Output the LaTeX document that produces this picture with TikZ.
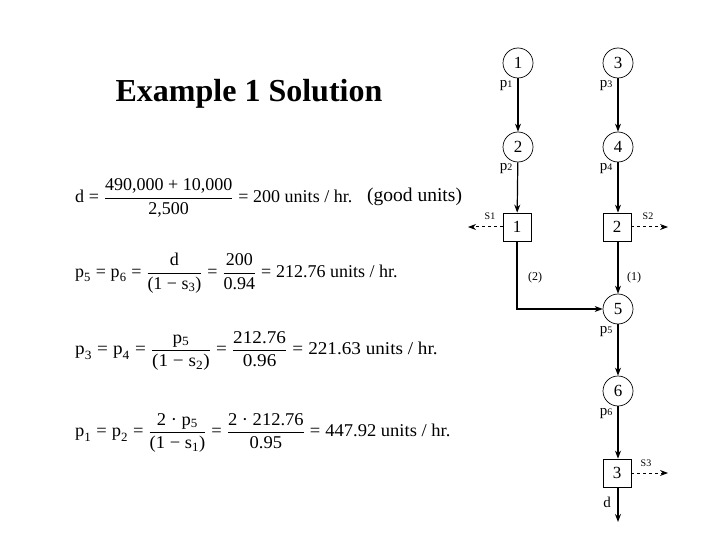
\documentclass[tikz,border=0pt]{standalone}
\usepackage{amsmath}
\usepackage{graphicx}
\usepackage{fontspec}
\setmainfont{Liberation Serif}
\usetikzlibrary{arrows.meta}
\newcommand{\tr}[1]{\textrm{#1}}
\newcommand{\fr}[2]{\dfrac{\tr{#1}}{\tr{#2}}}
\newcommand{\eqs}{\mathrel{\tr{=}}}
\begin{document}
\begin{tikzpicture}[x=1pt,y=-1pt,
  circ/.style={draw,circle,minimum size=30pt,inner sep=0pt,line width=0.7pt,font=\fontsize{17}{18}\selectfont},
  boxn/.style={draw,minimum size=28pt,inner sep=0pt,line width=0.7pt,font=\fontsize{17}{18}\selectfont},
  flow/.style={-{Stealth[length=8pt,width=6pt]},line width=1.2pt},
  scrap/.style={-{Stealth[length=8pt,width=6pt]},dashed,line width=1pt},
  lbl/.style={font=\fontsize{15}{16}\selectfont,inner sep=0pt},
  eq/.style={anchor=west,inner sep=0pt,font=\fontsize{18}{20}\selectfont}]
\useasboundingbox (0,0) rectangle (720,540);
\node[font=\fontsize{32}{34}\selectfont\bfseries] (title) at (249,94) {Example 1 Solution};

\node[eq] (e1) at (75,198) {$\tr{d} \eqs \fr{490,000 + 10,000}{2,500} \eqs \tr{200 units / hr.}$};
\node[eq,anchor=west,font=\fontsize{19.5}{22}\selectfont] (good) at (367,197) {(good units)};
\node[eq] (e2) at (75,273) {$\tr{p}_{\tr{5}} \eqs \tr{p}_{\tr{6}} \eqs \fr{d}{(1 − s$_{\tr{3}}$)} \eqs \fr{200}{0.94} \eqs \tr{212.76 units / hr.}$};
\node[eq] (e3) at (75,351) {\scalebox{1.065}[1]{$\tr{p}_{\tr{3}} \eqs \tr{p}_{\tr{4}} \eqs \fr{p$_{\tr{5}}$}{(1 − s$_{\tr{2}}$)} \eqs \fr{212.76}{0.96} \eqs \tr{221.63 units / hr.}$}};
\node[eq] (e4) at (75,433) {\scalebox{1.03}[1]{$\tr{p}_{\tr{1}} \eqs \tr{p}_{\tr{2}} \eqs \fr{2 · p$_{\tr{5}}$}{(1 − s$_{\tr{1}}$)} \eqs \fr{2 · 212.76}{0.95} \eqs \tr{447.92 units / hr.}$}};

% diagram
\node[circ] (c1) at (518,63) {1};
\node[circ] (c3) at (618,63) {3};
\node[circ] (c2) at (518,147) {2};
\node[circ] (c4) at (618,147) {4};
\node[boxn] (b1) at (517,227) {1};
\node[boxn] (b2) at (617,227) {2};
\node[circ] (c5) at (618,309) {5};
\node[circ] (c6) at (618,391) {6};
\node[boxn] (b3) at (617,473) {3};
\coordinate (corner) at (517,309);
\coordinate (s1end) at (468,227);
\coordinate (s2end) at (668,227);
\coordinate (s3end) at (668,473);
\coordinate (dend) at (618,522);

\draw[flow] (c1) -- (c2);
\draw[flow] (c3) -- (c4);
\draw[flow] (c2) -- (b1);
\draw[flow] (c4) -- (b2.north -| c4);
\draw[flow] (b1) -- (corner) -- (c5);
\draw[flow] (b2.south -| c5) -- (c5);
\draw[flow] (c5) -- (c6);
\draw[flow] (c6) -- (b3.north -| c6);
\draw[flow] (b3.south -| c6) -- (dend);
\draw[scrap] (b1) -- (s1end);
\draw[scrap] (b2) -- (s2end);
\draw[scrap] (b3) -- (s3end);

\node[lbl] (lp1) at (506,86) {p\fontsize{10}{10}\selectfont 1};
\node[lbl] (lp3) at (606,86) {p\fontsize{10}{10}\selectfont 3};
\node[lbl] (lp2) at (506,169) {p\fontsize{10}{10}\selectfont 2};
\node[lbl] (lp4) at (606,169) {p\fontsize{10}{10}\selectfont 4};
\node[lbl] (lp5) at (606,332) {p\fontsize{10}{10}\selectfont 5};
\node[lbl] (lp6) at (606,414) {p\fontsize{10}{10}\selectfont 6};
\node[lbl,font=\fontsize{10}{10}\selectfont] (ls1) at (490,216) {S1};
\node[lbl,font=\fontsize{10}{10}\selectfont] (ls2) at (648,216) {S2};
\node[lbl,font=\fontsize{10}{10}\selectfont] (ls3) at (646,463) {S3};
\node[lbl,font=\fontsize{12}{12}\selectfont] (l2) at (535,278) {(2)};
\node[lbl,font=\fontsize{12}{12}\selectfont] (l1) at (634,278) {(1)};
\node[lbl] (ld) at (607,502) {d};
\end{tikzpicture}
\end{document}
